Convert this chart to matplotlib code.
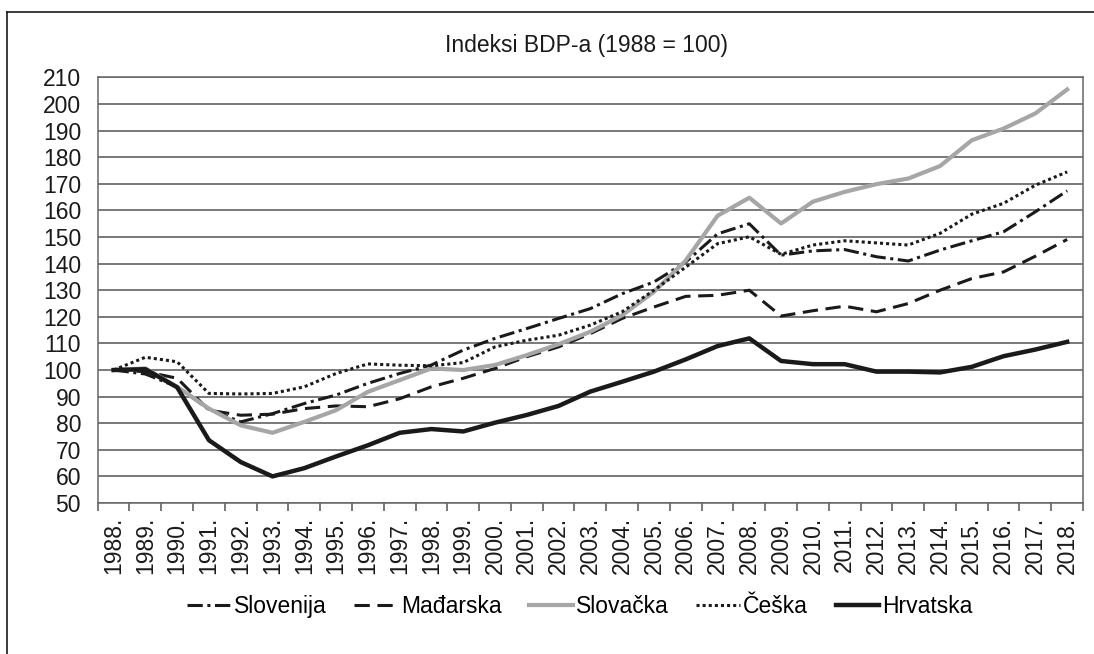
import matplotlib
matplotlib.use("Agg")
import matplotlib.pyplot as plt
from matplotlib.lines import Line2D

plt.rcParams['font.family'] = ['Liberation Sans', 'DejaVu Sans']

years = [str(y) + "." for y in range(1988, 2019)]

slovenija = [100, 98.5, 93.7, 85.2, 80.5, 83.6, 87.4, 90.6, 95.0, 98.7,
             101.9, 107.5, 111.9, 115.6, 119.4, 123.1, 128.7, 133.1, 140.6, 151.2,
             155.0, 143.2, 144.8, 145.3, 142.6, 141.0, 145.1, 148.6, 152.0, 159.5, 167.4]
madjarska = [100, 99.4, 96.9, 84.9, 83.0, 83.4, 85.5, 86.5, 86.2, 89.2,
             93.7, 96.9, 100.6, 105.0, 108.7, 113.7, 119.4, 123.7, 127.7, 128.1,
             130.0, 120.3, 122.3, 124.0, 121.9, 125.0, 130.0, 134.4, 136.9, 142.8, 149.1]
slovacka = [100, 100.6, 93.7, 85.5, 79.2, 76.4, 80.5, 84.9, 91.8, 96.2,
            100.6, 100.0, 101.9, 105.6, 109.7, 114.4, 120.6, 129.4, 141.2, 158.0,
            164.8, 155.1, 163.3, 167.0, 169.9, 172.0, 176.7, 186.4, 190.8, 196.5, 205.5]
ceska = [100, 104.8, 103.1, 91.2, 91.0, 91.2, 93.7, 98.7, 102.3, 101.8,
         101.6, 102.8, 108.7, 111.2, 113.1, 116.9, 121.9, 130.0, 138.7, 147.5,
         150.1, 143.5, 147.0, 148.6, 147.8, 147.0, 151.4, 158.6, 162.7, 169.5, 174.5]
hrvatska = [100, 100.3, 93.5, 73.6, 65.4, 60.0, 63.1, 67.5, 71.7, 76.4,
            77.8, 76.9, 80.2, 83.1, 86.5, 91.9, 95.6, 99.4, 104.0, 109.0,
            111.9, 103.4, 102.2, 102.2, 99.4, 99.4, 99.1, 101.2, 105.2, 107.7, 110.6]

fig = plt.figure(figsize=(10.94, 6.54), dpi=100)
ax = fig.add_axes([0.0893, 0.2309, 0.9007, 0.6506])

x = list(range(len(years)))
ax.plot(x, slovenija, color='#1a1a1a', lw=2.2, ls=(0, (5, 1.5, 1, 1.5)), label='Slovenija', zorder=3)
ax.plot(x, madjarska, color='#1a1a1a', lw=2.2, ls=(0, (5, 2.5)), label='Mađarska', zorder=3)
ax.plot(x, slovacka, color='#a6a6a6', lw=3.0, label='Slovačka', zorder=3)
ax.plot(x, ceska, color='#1a1a1a', lw=2.2, ls=(0, (1, 1)), label='Češka', zorder=3)
ax.plot(x, hrvatska, color='#1a1a1a', lw=3.2, label='Hrvatska', zorder=4)

ax.set_xlim(-0.5, len(years) - 0.5)
ax.set_ylim(50, 210)
ax.set_yticks(range(50, 211, 10))
ax.yaxis.grid(True, color='#555555', lw=1.1)
ax.set_axisbelow(True)

ax.set_xticks(x)
ax.set_xticklabels(years, rotation=90)
ax.set_xticks([i - 0.5 for i in range(len(years) + 1)], minor=True)
ax.tick_params(axis='x', which='major', length=0, pad=10, labelsize=16.5, colors='#1a1a1a')
ax.tick_params(axis='x', which='minor', length=6, width=1.1, color='#555555')
ax.tick_params(axis='y', length=0, pad=12, labelsize=16.5, colors='#1a1a1a')

for s in ax.spines.values():
    s.set_color('#666666')
    s.set_linewidth(1.1)

fig.text(0.536, 0.931, 'Indeksi BDP-a (1988 = 100)', ha='center', va='center',
         fontsize=16.5, color='#1a1a1a')

fig.legend(loc='center', bbox_to_anchor=(0.53, 0.072), ncol=5, frameon=False,
           fontsize=16.5, handlelength=1.9, handletextpad=0.15, columnspacing=1.2)

# outer frame (left and top edges)
fig.add_artist(Line2D([0.0064, 0.0064], [0, 0.982], color='#1a1a1a', lw=1.2))
fig.add_artist(Line2D([0.0064, 1.0], [0.982, 0.982], color='#1a1a1a', lw=1.2))

fig.savefig('out.png', dpi=100)
